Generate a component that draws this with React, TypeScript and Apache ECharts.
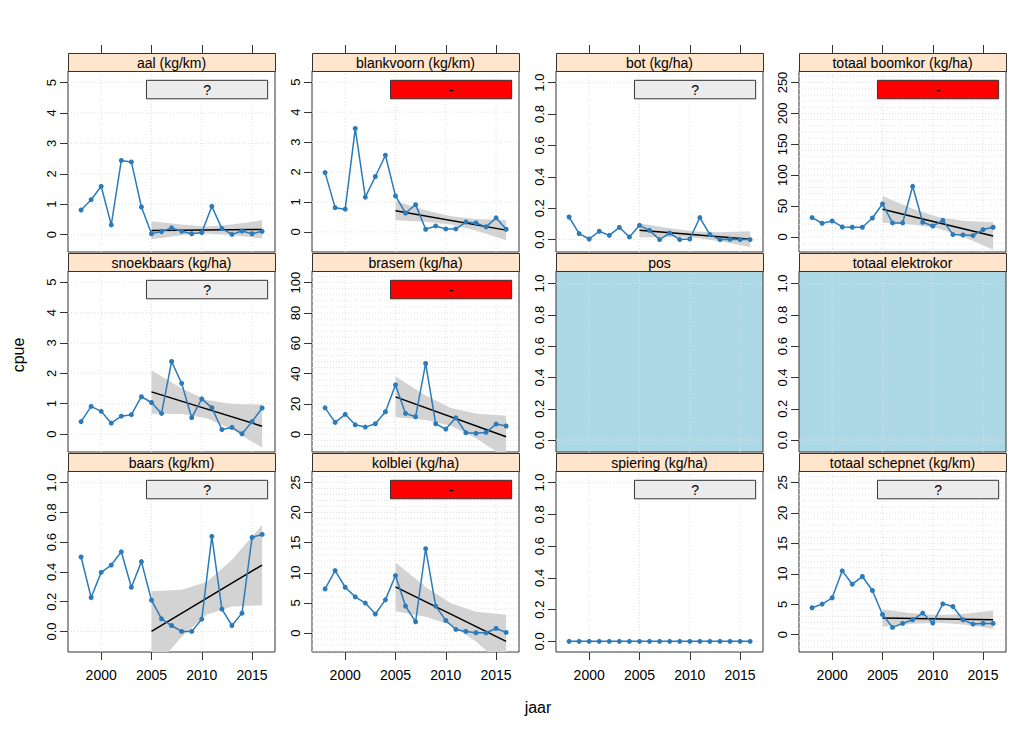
import React, { useEffect, useRef } from "react";
import * as echarts from "echarts";

// ---------------- data ----------------
const YEARS = [1998, 1999, 2000, 2001, 2002, 2003, 2004, 2005, 2006, 2007, 2008, 2009, 2010, 2011, 2012, 2013, 2014, 2015, 2016];
const TREND_YEARS = [2005, 2016];
const BAND_YEARS = [2005, 2008, 2010.5, 2013, 2016];
const X_TICKS = [2000, 2005, 2010, 2015];

const aal = [0.81, 1.15, 1.59, 0.32, 2.44, 2.39, 0.91, 0.03, 0.1, 0.22, 0.11, 0.03, 0.07, 0.93, 0.2, 0.01, 0.12, 0.03, 0.11];
const aalTrend = [0.14, 0.17];
const aalLower = [-0.15, -0.02, 0.04, -0.01, -0.13];
const aalUpper = [0.44, 0.33, 0.27, 0.33, 0.47];

const blankvoorn = [1.98, 0.81, 0.76, 3.45, 1.16, 1.85, 2.56, 1.2, 0.63, 0.91, 0.09, 0.2, 0.1, 0.1, 0.33, 0.3, 0.17, 0.47, 0.09];
const blankvoornTrend = [0.71, 0.06];
const blankvoornLower = [0.39, 0.34, 0.245, 0.05, -0.28];
const blankvoornUpper = [1.03, 0.72, 0.525, 0.43, 0.4];

const bot = [0.144, 0.038, 0.004, 0.053, 0.027, 0.078, 0.017, 0.091, 0.059, 0.0, 0.042, 0.0, 0.004, 0.14, 0.032, 0.0, 0.002, 0.0, 0.0];
const botTrend = [0.059, 0.003];
const botLower = [0.014, 0.015, 0.011, -0.011, -0.047];
const botUpper = [0.104, 0.073, 0.051, 0.047, 0.053];

const boomkor = [31.4, 22.2, 25.9, 16.2, 15.7, 15.7, 30.7, 53.4, 22.7, 22.7, 82.0, 23.8, 17.8, 27.0, 3.9, 3.2, 2.3, 12.0, 15.7];
const boomkorTrend = [44.8, 1.6];
const boomkorLower = [23, 20.2, 14.2, 0.6, -20.8];
const boomkorUpper = [66.4, 45.8, 32.2, 26.2, 24];

const snoekbaars = [0.41, 0.91, 0.75, 0.36, 0.59, 0.64, 1.23, 1.04, 0.68, 2.39, 1.67, 0.54, 1.16, 0.87, 0.15, 0.22, 0.01, 0.41, 0.86];
const snoekbaarsTrend = [1.39, 0.26];
const snoekbaarsLower = [0.67, 0.66, 0.525, 0.15, -0.45];
const snoekbaarsUpper = [2.1, 1.5, 1.125, 0.99, 0.97];

const brasem = [17.5, 7.9, 13.2, 6.3, 4.8, 7.0, 14.9, 32.6, 13.8, 11.6, 46.7, 7.0, 3.5, 10.9, 1.1, 0.7, 1.3, 6.8, 5.5];
const brasemTrend = [24.7, -1.6];
const brasemLower = [11.3, 9.4, 5.75, -2.5, -15.5];
const brasemUpper = [38.1, 25.6, 17.35, 13.7, 12.3];

const baars = [0.5, 0.228, 0.397, 0.446, 0.535, 0.297, 0.469, 0.21, 0.085, 0.04, 0.0, 0.0, 0.083, 0.639, 0.15, 0.04, 0.123, 0.632, 0.652];
const baarsTrend = [0.0, 0.446];
const baarsLower = [-0.27, -0.035, 0.113, 0.167, 0.176];
const baarsUpper = [0.27, 0.28, 0.333, 0.481, 0.716];

const kolblei = [7.33, 10.36, 7.6, 6.0, 4.97, 3.15, 5.51, 9.54, 4.47, 1.87, 14.0, 4.47, 2.09, 0.6, 0.27, 0.05, 0.05, 0.76, 0.1];
const kolbleiTrend = [7.66, -1.39];
const kolbleiLower = [3.6, 2.72, 1.335, -1.39, -5.8];
const kolbleiUpper = [11.7, 7.66, 4.935, 3.55, 3.03];

const spiering = [0, 0, 0, 0, 0, 0, 0, 0, 0, 0, 0, 0, 0, 0, 0, 0, 0, 0, 0];

const schepnet = [4.43, 5.03, 6.07, 10.5, 8.3, 9.56, 7.26, 3.33, 1.2, 1.85, 2.46, 3.56, 1.91, 5.08, 4.64, 2.46, 1.75, 1.85, 1.85];
const schepnetTrend = [2.73, 2.46];
const schepnetLower = [1.31, 1.8, 1.98, 1.67, 0.96];
const schepnetUpper = [4.15, 3.52, 3.22, 3.39, 3.96];

// tick labels
const TICKS_0_5 = [0, 1, 2, 3, 4, 5];
const TICKS_0_1 = [0, 0.2, 0.4, 0.6, 0.8, 1.0];
const TICKS_0_250 = [0, 50, 100, 150, 200, 250];
const TICKS_0_100 = [0, 20, 40, 60, 80, 100];
const TICKS_0_25 = [0, 5, 10, 15, 20, 25];
const GRID_0_1 = [0, 1];

type Panel = {
  title: string;
  values?: number[];
  trend?: number[];
  lower?: number[];
  upper?: number[];
  verdict?: string;
  yRange: number[];
  ticks: number[];
  gridH: number[];
  minor?: number;
  dec: number;
  blue?: boolean;
};

const PANELS: Panel[] = [
  { title: "aal (kg/km)", values: aal, trend: aalTrend, lower: aalLower, upper: aalUpper, verdict: "?", yRange: [-0.57, 5.38], ticks: TICKS_0_5, gridH: TICKS_0_5, dec: 0 },
  { title: "blankvoorn (kg/km)", values: blankvoorn, trend: blankvoornTrend, lower: blankvoornLower, upper: blankvoornUpper, verdict: "-", yRange: [-0.67, 5.37], ticks: TICKS_0_5, gridH: TICKS_0_5, dec: 0 },
  { title: "bot (kg/ha)", values: bot, trend: botTrend, lower: botLower, upper: botUpper, verdict: "?", yRange: [-0.079, 1.074], ticks: TICKS_0_1, gridH: GRID_0_1, dec: 1 },
  { title: "totaal boomkor (kg/ha)", values: boomkor, trend: boomkorTrend, lower: boomkorLower, upper: boomkorUpper, verdict: "-", yRange: [-24.3, 268.6], ticks: TICKS_0_250, gridH: TICKS_0_250, minor: 10, dec: 0 },
  { title: "snoekbaars (kg/ha)", values: snoekbaars, trend: snoekbaarsTrend, lower: snoekbaarsLower, upper: snoekbaarsUpper, verdict: "?", yRange: [-0.59, 5.37], ticks: TICKS_0_5, gridH: TICKS_0_5, dec: 0 },
  { title: "brasem (kg/ha)", values: brasem, trend: brasemTrend, lower: brasemLower, upper: brasemUpper, verdict: "-", yRange: [-11.6, 107.6], ticks: TICKS_0_100, gridH: TICKS_0_100, minor: 4, dec: 0 },
  { title: "pos", yRange: [-0.076, 1.08], ticks: TICKS_0_1, gridH: GRID_0_1, dec: 1, blue: true },
  { title: "totaal elektrokor", yRange: [-0.076, 1.08], ticks: TICKS_0_1, gridH: GRID_0_1, dec: 1, blue: true },
  { title: "baars (kg/km)", values: baars, trend: baarsTrend, lower: baarsLower, upper: baarsUpper, verdict: "?", yRange: [-0.138, 1.078], ticks: TICKS_0_1, gridH: GRID_0_1, dec: 1 },
  { title: "kolblei (kg/ha)", values: kolblei, trend: kolbleiTrend, lower: kolbleiLower, upper: kolbleiUpper, verdict: "-", yRange: [-3.15, 26.9], ticks: TICKS_0_25, gridH: TICKS_0_25, minor: 1, dec: 0 },
  { title: "spiering (kg/ha)", values: spiering, verdict: "?", yRange: [-0.067, 1.073], ticks: TICKS_0_1, gridH: GRID_0_1, dec: 1 },
  { title: "totaal schepnet (kg/km)", values: schepnet, trend: schepnetTrend, lower: schepnetLower, upper: schepnetUpper, verdict: "?", yRange: [-2.84, 26.9], ticks: TICKS_0_25, gridH: TICKS_0_25, minor: 1, dec: 0 },
];

// ---------------- layout / style ----------------
const FONT = "'Liberation Sans', Arial, Helvetica, sans-serif";
const COL_LEFT = [68, 312, 556, 799];
const ROW_TOP = [71, 271, 471];
const PW = 207;
const PH = 181;
const STRIP_H = 18;
const X_MIN = 1996.7;
const X_MAX = 2017.28;
const BOX_X = [2004.5, 2016.55];
const BLUE = "#2B7BBA";
const DARK = "#333333";
const GRID_COLOR = "#E0E0E0";

function buildOption() {
  const grid: any[] = [];
  const xAxis: any[] = [];
  const yAxis: any[] = [];
  const series: any[] = [];
  const graphic: any[] = [];

  PANELS.forEach((p, i) => {
    const r = Math.floor(i / 4);
    const c = i % 4;
    const left = COL_LEFT[c];
    const top = ROW_TOP[r];
    grid.push({
      left, top, width: PW, height: PH, show: true,
      borderColor: DARK, borderWidth: 1,
      backgroundColor: p.blue ? "#ADD8E6" : "#FFFFFF",
    });
    const xi = xAxis.length;
    const bottomRow = r === 2;
    xAxis.push({
      type: "value", gridIndex: i, min: X_MIN, max: X_MAX, position: "bottom",
      axisLine: { show: false, onZero: false }, splitLine: { show: false },
      axisTick: { show: bottomRow, customValues: X_TICKS, length: 8, inside: false, lineStyle: { color: DARK } },
      axisLabel: {
        show: bottomRow, customValues: X_TICKS, fontSize: 14, fontFamily: FONT, color: "#000", margin: 16,
        formatter: (v: number) => String(v),
      },
    });
    if (r === 0) {
      xAxis.push({
        type: "value", gridIndex: i, min: X_MIN, max: X_MAX, position: "top", offset: STRIP_H,
        axisLine: { show: false, onZero: false }, splitLine: { show: false },
        axisTick: { show: true, customValues: X_TICKS, length: 8, lineStyle: { color: DARK } },
        axisLabel: { show: false },
      });
    }
    yAxis.push({
      type: "value", gridIndex: i, min: p.yRange[0], max: p.yRange[1],
      axisLine: { show: false, onZero: false }, splitLine: { show: false },
      axisTick: { show: true, customValues: p.ticks, length: 8, lineStyle: { color: DARK } },
      axisLabel: {
        customValues: p.ticks, rotate: 90, fontSize: 13, fontFamily: FONT, color: "#000", margin: 10,
        formatter: (v: number) => v.toFixed(p.dec),
      },
    });

    // reference grid lines: [orientation (0 = horizontal, 1 = vertical), value]
    const lines: number[][] = [];
    X_TICKS.forEach((v) => lines.push([1, v]));
    p.gridH.forEach((v) => lines.push([0, v]));
    if (p.minor) {
      const start = Math.ceil(p.yRange[0] / p.minor) * p.minor;
      for (let v = start; v <= p.yRange[1]; v += p.minor) {
        const vv = Math.round(v * 1000) / 1000;
        if (p.gridH.indexOf(vv) < 0) lines.push([0, vv]);
      }
    }
    const yr = p.yRange;
    series.push({
      type: "custom", xAxisIndex: xi, yAxisIndex: i, z: 1, silent: true, clip: true,
      data: lines,
      encode: { x: -1, y: -1 },
      renderItem: (params: any, api: any) => {
        const o = api.value(0);
        const v = api.value(1);
        const a = o === 0 ? api.coord([X_MIN, v]) : api.coord([v, yr[0]]);
        const b = o === 0 ? api.coord([X_MAX, v]) : api.coord([v, yr[1]]);
        return {
          type: "line",
          shape: { x1: a[0], y1: a[1], x2: b[0], y2: b[1] },
          style: { stroke: GRID_COLOR, lineWidth: 1, lineDash: [1, 2] },
        };
      },
    });

    if (p.lower && p.upper) {
      const lo = p.lower;
      const up = p.upper;
      series.push({
        type: "custom", xAxisIndex: xi, yAxisIndex: i, z: 2, silent: true, clip: true,
        data: BAND_YEARS.map((y, k) => [y, lo[k], up[k]]),
        encode: { x: 0, y: [1, 2] },
        renderItem: (params: any, api: any) => {
          if (params.dataIndex !== 0) return null;
          const pts: number[][] = [];
          BAND_YEARS.forEach((y, k) => pts.push(api.coord([y, up[k]])));
          for (let k = BAND_YEARS.length - 1; k >= 0; k--) pts.push(api.coord([BAND_YEARS[k], lo[k]]));
          return { type: "polygon", shape: { points: pts }, style: { fill: "#D3D3D3" } };
        },
      });
    }
    if (p.trend) {
      series.push({
        type: "line", xAxisIndex: xi, yAxisIndex: i, z: 3, silent: true, symbol: "none",
        data: TREND_YEARS.map((y, k) => [y, p.trend![k]]),
        lineStyle: { color: "#000", width: 1.5 },
      });
    }
    if (p.values) {
      const range = p.yRange[1] - p.yRange[0];
      const boxTop = p.yRange[1] - 0.0514 * range;
      const boxBottom = p.yRange[1] - 0.1536 * range;
      const red = p.verdict === "-";
      series.push({
        type: "line", xAxisIndex: xi, yAxisIndex: i, z: 4, silent: true,
        data: YEARS.map((y, k) => [y, p.values![k]]),
        symbol: "circle", symbolSize: 5,
        itemStyle: { color: BLUE },
        lineStyle: { color: BLUE, width: 1.5 },
        markArea: {
          silent: true, z: 6,
          itemStyle: { color: red ? "#FF0000" : "#EBEBEB", borderColor: DARK, borderWidth: 1, opacity: 1 },
          label: { show: true, position: "inside", color: "#000", fontSize: 14, fontFamily: FONT, formatter: () => p.verdict },
          data: [[{ xAxis: BOX_X[0], yAxis: boxTop }, { xAxis: BOX_X[1], yAxis: boxBottom }]],
        },
      });
    }

    // strip
    graphic.push({
      type: "rect", z: 10,
      shape: { x: left + 0.5, y: top - STRIP_H + 0.5, width: PW, height: STRIP_H },
      style: { fill: "#FFE5CC", stroke: DARK, lineWidth: 1 },
    });
    graphic.push({
      type: "text", z: 11,
      x: left + PW / 2, y: top - STRIP_H / 2 + 0.5,
      style: { text: p.title, font: `14px ${FONT}`, fill: "#000", align: "center", verticalAlign: "middle" },
    });
  });

  graphic.push({
    type: "text", x: 18, y: 355, rotation: Math.PI / 2,
    style: { text: "cpue", font: `16px ${FONT}`, fill: "#000", align: "center", verticalAlign: "middle" },
  });
  graphic.push({
    type: "text", x: 538, y: 707,
    style: { text: "jaar", font: `16px ${FONT}`, fill: "#000", align: "center", verticalAlign: "middle" },
  });

  return {
    animation: false,
    backgroundColor: "#FFFFFF",
    textStyle: { fontFamily: FONT },
    grid, xAxis, yAxis, series, graphic,
  };
}

export default function App() {
  const ref = useRef<HTMLDivElement>(null);
  useEffect(() => {
    if (!ref.current) return;
    const chart = echarts.init(ref.current, undefined, { renderer: "svg" });
    chart.setOption(buildOption() as any);
    return () => chart.dispose();
  }, []);
  return (
    <div
      ref={ref}
      style={{ position: "fixed", left: 0, top: 0, width: 1024, height: 731, background: "#fff" }}
    />
  );
}
